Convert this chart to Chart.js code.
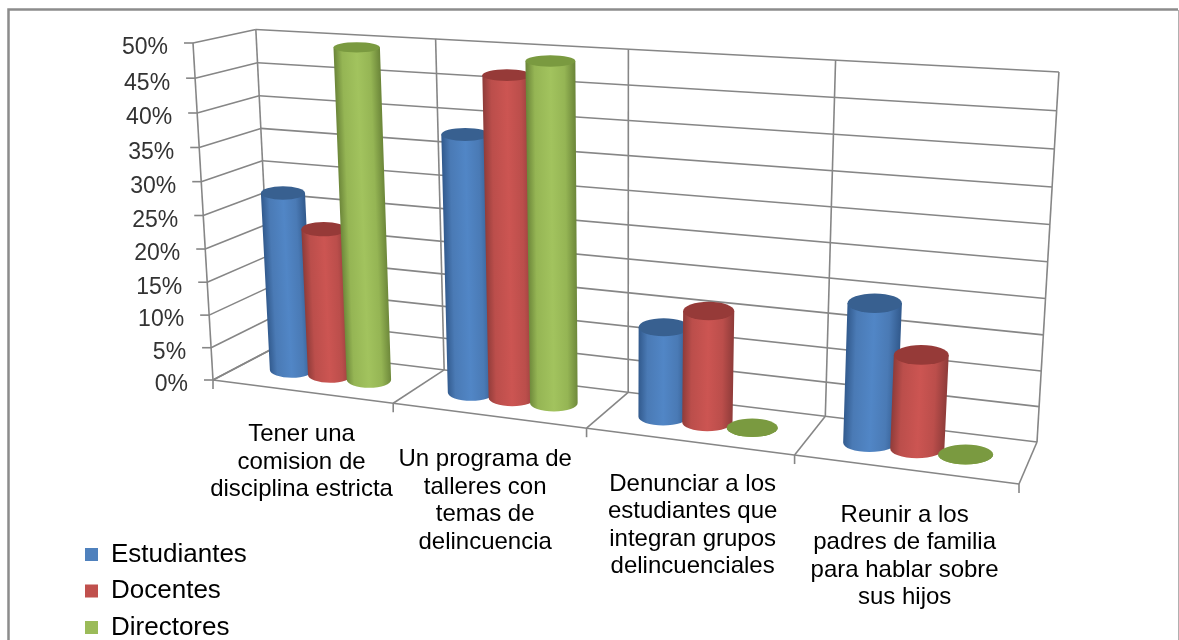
<!DOCTYPE html>
<html lang="es">
<head>
  <meta charset="UTF-8">
  <title>Estudiantes, Docentes, Directores</title>
  <script src="https://cdn.jsdelivr.net/npm/chart.js"></script>
  <style>
    html, body { margin: 0; padding: 0; background: #fff; overflow: hidden; }
    canvas { display: block; }
  </style>
</head>
<body>
  <canvas id="chart" width="1179" height="640"></canvas>

  <script>
    const categories = [
      ['Tener una', 'comision de', 'disciplina estricta'],
      ['Un programa de', 'talleres con', 'temas de', 'delincuencia'],
      ['Denunciar a los', 'estudiantes que', 'integran grupos', 'delincuenciales'],
      ['Reunir a los', 'padres de familia', 'para hablar sobre', 'sus hijos']
    ];
    const estudiantes = [27.3, 38, 13, 19.4];
    const docentes = [22.4, 46.7, 16, 13];
    const directores = [49.4, 49, 0, 0];

    const FONT = '"Liberation Sans", Arial, sans-serif';
    const GRID = '#868686';

    // floor corners on screen: front-left, front-right, back-right, back-left
    const floorQuad = [[213, 380], [1019, 484], [1037, 442], [272, 349]];
    const topFrontLeft = [193, 43];
    const heightK = -0.0464;   // vertical perspective
    const topRightLift = 5.7;
    const barDepth = 0.5;
    // small nudges of the category labels, [dx, dy]
    const labelShift = [[0, 2], [-3, 3], [4, 2], [0, 5]];

    // cylinder colours: edge, side, highlight, cap
    const shades = [
      ['#31598c', '#4a7ab5', '#5186c6', '#386090'],
      ['#8e3b39', '#bb4e4b', '#cc5552', '#963a38'],
      ['#6a8438', '#95b554', '#a2c35e', '#7a9a40']
    ];

    function quadMap(q) {
      const [[x0, y0], [x1, y1], [x2, y2], [x3, y3]] = q;
      const dx1 = x1 - x2, dx2 = x3 - x2, sx = x0 - x1 + x2 - x3;
      const dy1 = y1 - y2, dy2 = y3 - y2, sy = y0 - y1 + y2 - y3;
      const den = dx1 * dy2 - dx2 * dy1;
      const g = (sx * dy2 - dx2 * sy) / den;
      const h = (dx1 * sy - sx * dy1) / den;
      const a = x1 - x0 + g * x1, b = x3 - x0 + h * x3;
      const d = y1 - y0 + g * y1, e = y3 - y0 + h * y3;
      return (u, t) => [a * u + b * t + x0, d * u + e * t + y0, g * u + h * t + 1];
    }
    const floorAt = quadMap(floorQuad);
    const upX = (1 + heightK) * topFrontLeft[0] - floorQuad[0][0];
    const upY = (1 + heightK) * topFrontLeft[1] - floorQuad[0][1];

    // u along the categories, v up the value axis, t from front to back
    function project(u, v, t) {
      const [nx, ny, w] = floorAt(u, t);
      const s = w + heightK * v;
      return [(nx + upX * v) / s, (ny + upY * v) / s - topRightLift * u * v];
    }

    function line(ctx, a, b) {
      ctx.beginPath();
      ctx.moveTo(a[0], a[1]);
      ctx.lineTo(b[0], b[1]);
      ctx.stroke();
    }

    function drawFrame(ctx) {
      ctx.strokeStyle = '#8c8c8c';
      ctx.lineWidth = 2.5;
      ctx.beginPath();
      ctx.moveTo(8.5, 640);
      ctx.lineTo(8.5, 9.5);
      ctx.lineTo(1178, 9.5);
      ctx.stroke();
      ctx.strokeStyle = '#b0b0b0';
      ctx.lineWidth = 1;
      line(ctx, [1178.5, 10], [1178.5, 640]);
    }

    function drawWalls(chart) {
      const ctx = chart.ctx, ys = chart.scales.y, area = chart.chartArea;
      const toV = t => (area.bottom - ys.getPixelForValue(t.value)) / area.height;
      ctx.strokeStyle = GRID;
      ctx.lineWidth = 1.6;

      // value gridlines on left wall and back wall, tick marks and labels
      ctx.font = '23px ' + FONT;
      ctx.fillStyle = '#333';
      ctx.textAlign = 'right';
      ctx.textBaseline = 'middle';
      ys.ticks.forEach(t => {
        const v = toV(t);
        const front = project(0, v, 0), corner = project(0, v, 1);
        line(ctx, front, corner);
        line(ctx, corner, project(1, v, 1));
        line(ctx, front, [front[0] - 9, front[1]]);
        ctx.fillText(t.label, front[0] - 25, front[1] + 5);
      });

      // category boundaries on the back wall and the floor
      const n = categories.length;
      for (let i = 0; i <= n; i++) {
        const u = i / n;
        line(ctx, project(u, 0, 1), project(u, 1, 1));
        line(ctx, project(u, 0, 0), project(u, 0, 1));
        const f = project(u, 0, 0);
        line(ctx, f, [f[0], f[1] + 9]);
      }
      line(ctx, project(0, 0, 0), project(0, 1, 0));
      line(ctx, project(0, 0, 0), project(1, 0, 0));
    }

    function drawCylinder(ctx, el, area, col) {
      const uOf = x => (x - area.left) / area.width;
      const vOf = y => (area.bottom - y) / area.height;
      const v = vOf(el.y), v0 = vOf(el.base), half = el.width / 2;
      const tc = project(uOf(el.x), v, barDepth), bc = project(uOf(el.x), v0, barDepth);
      const rxT = (project(uOf(el.x + half), v, barDepth)[0] - project(uOf(el.x - half), v, barDepth)[0]) / 2;
      const rxB = (project(uOf(el.x + half), v0, barDepth)[0] - project(uOf(el.x - half), v0, barDepth)[0]) / 2;
      // caps look rounder further down the picture
      const ratio = y => Math.min(0.36, 0.22 + 0.00055 * (y - 44));
      const ryT = rxT * ratio(tc[1]), ryB = rxB * ratio(bc[1]);

      // shear so the shading follows the leaning side of the cylinder
      const lean = bc[1] - tc[1] > 1 ? (bc[0] - tc[0]) / (bc[1] - tc[1]) : 0;
      const rx = Math.max(rxT, rxB);
      ctx.save();
      ctx.transform(1, 0, lean, 1, -lean * bc[1], 0);
      const grad = ctx.createLinearGradient(bc[0] - rx, 0, bc[0] + rx, 0);
      grad.addColorStop(0, col[0]);
      grad.addColorStop(0.18, col[1]);
      grad.addColorStop(0.5, col[2]);
      grad.addColorStop(0.78, col[1]);
      grad.addColorStop(1, col[0]);

      ctx.fillStyle = grad;
      ctx.beginPath();
      ctx.moveTo(bc[0] - rxT, tc[1]);
      ctx.lineTo(bc[0] - rxB, bc[1]);
      ctx.ellipse(bc[0], bc[1], rxB, ryB, 0, Math.PI, 0, true);
      ctx.lineTo(bc[0] + rxT, tc[1]);
      ctx.closePath();
      ctx.fill();
      ctx.restore();

      ctx.fillStyle = col[3];
      ctx.beginPath();
      ctx.ellipse(tc[0], tc[1], rxT, ryT, 0, 0, Math.PI * 2);
      ctx.fill();
    }

    function drawCategoryLabels(chart) {
      const ctx = chart.ctx, xs = chart.scales.x, area = chart.chartArea;
      ctx.font = '24px ' + FONT;
      ctx.fillStyle = '#000';
      ctx.textAlign = 'center';
      ctx.textBaseline = 'middle';
      chart.data.labels.forEach((lines, i) => {
        const p = project((xs.getPixelForTick(i) - area.left) / area.width, 0, 0);
        const [dx, dy] = labelShift[i];
        lines.forEach((s, k) => ctx.fillText(s, p[0] + dx, p[1] + 41 + dy + k * 27.5));
      });
    }

    const boxPlugin = {
      id: 'box3d',
      afterLayout(chart) {
        // legend sits under the axis, outside the normal layout
        const lg = chart.legend;
        lg.left = 74.5;
        lg.right = 330;
        lg.top = 531;
        lg.bottom = 720;
      },
      beforeDatasetsDraw(chart) {
        const ctx = chart.ctx;
        ctx.save();
        drawFrame(ctx);
        drawWalls(chart);
        chart.data.datasets.forEach((ds, di) => {
          chart.getDatasetMeta(di).data.forEach(el => {
            drawCylinder(ctx, el, chart.chartArea, shades[di]);
          });
        });
        drawCategoryLabels(chart);
        ctx.restore();
        return false;
      }
    };

    new Chart(document.getElementById('chart'), {
      type: 'bar',
      data: {
        labels: categories,
        datasets: [
          { label: 'Estudiantes', data: estudiantes, backgroundColor: '#4f81bd' },
          { label: 'Docentes', data: docentes, backgroundColor: '#c0504d' },
          { label: 'Directores', data: directores, backgroundColor: '#9bbb59' }
        ]
      },
      options: {
        responsive: false,
        animation: false,
        events: [],
        categoryPercentage: 0.66,
        barPercentage: 1.13,
        scales: {
          x: { display: false },
          y: {
            display: false,
            min: 0,
            max: 50,
            ticks: { stepSize: 5, callback: v => v + '%' }
          }
        },
        plugins: {
          tooltip: { enabled: false },
          legend: {
            position: 'left',
            align: 'start',
            labels: {
              boxWidth: 13,
              boxHeight: 13,
              padding: 10.5,
              color: '#000',
              font: { family: FONT, size: 26 }
            }
          }
        }
      },
      plugins: [boxPlugin]
    });
  </script>
</body>
</html>
